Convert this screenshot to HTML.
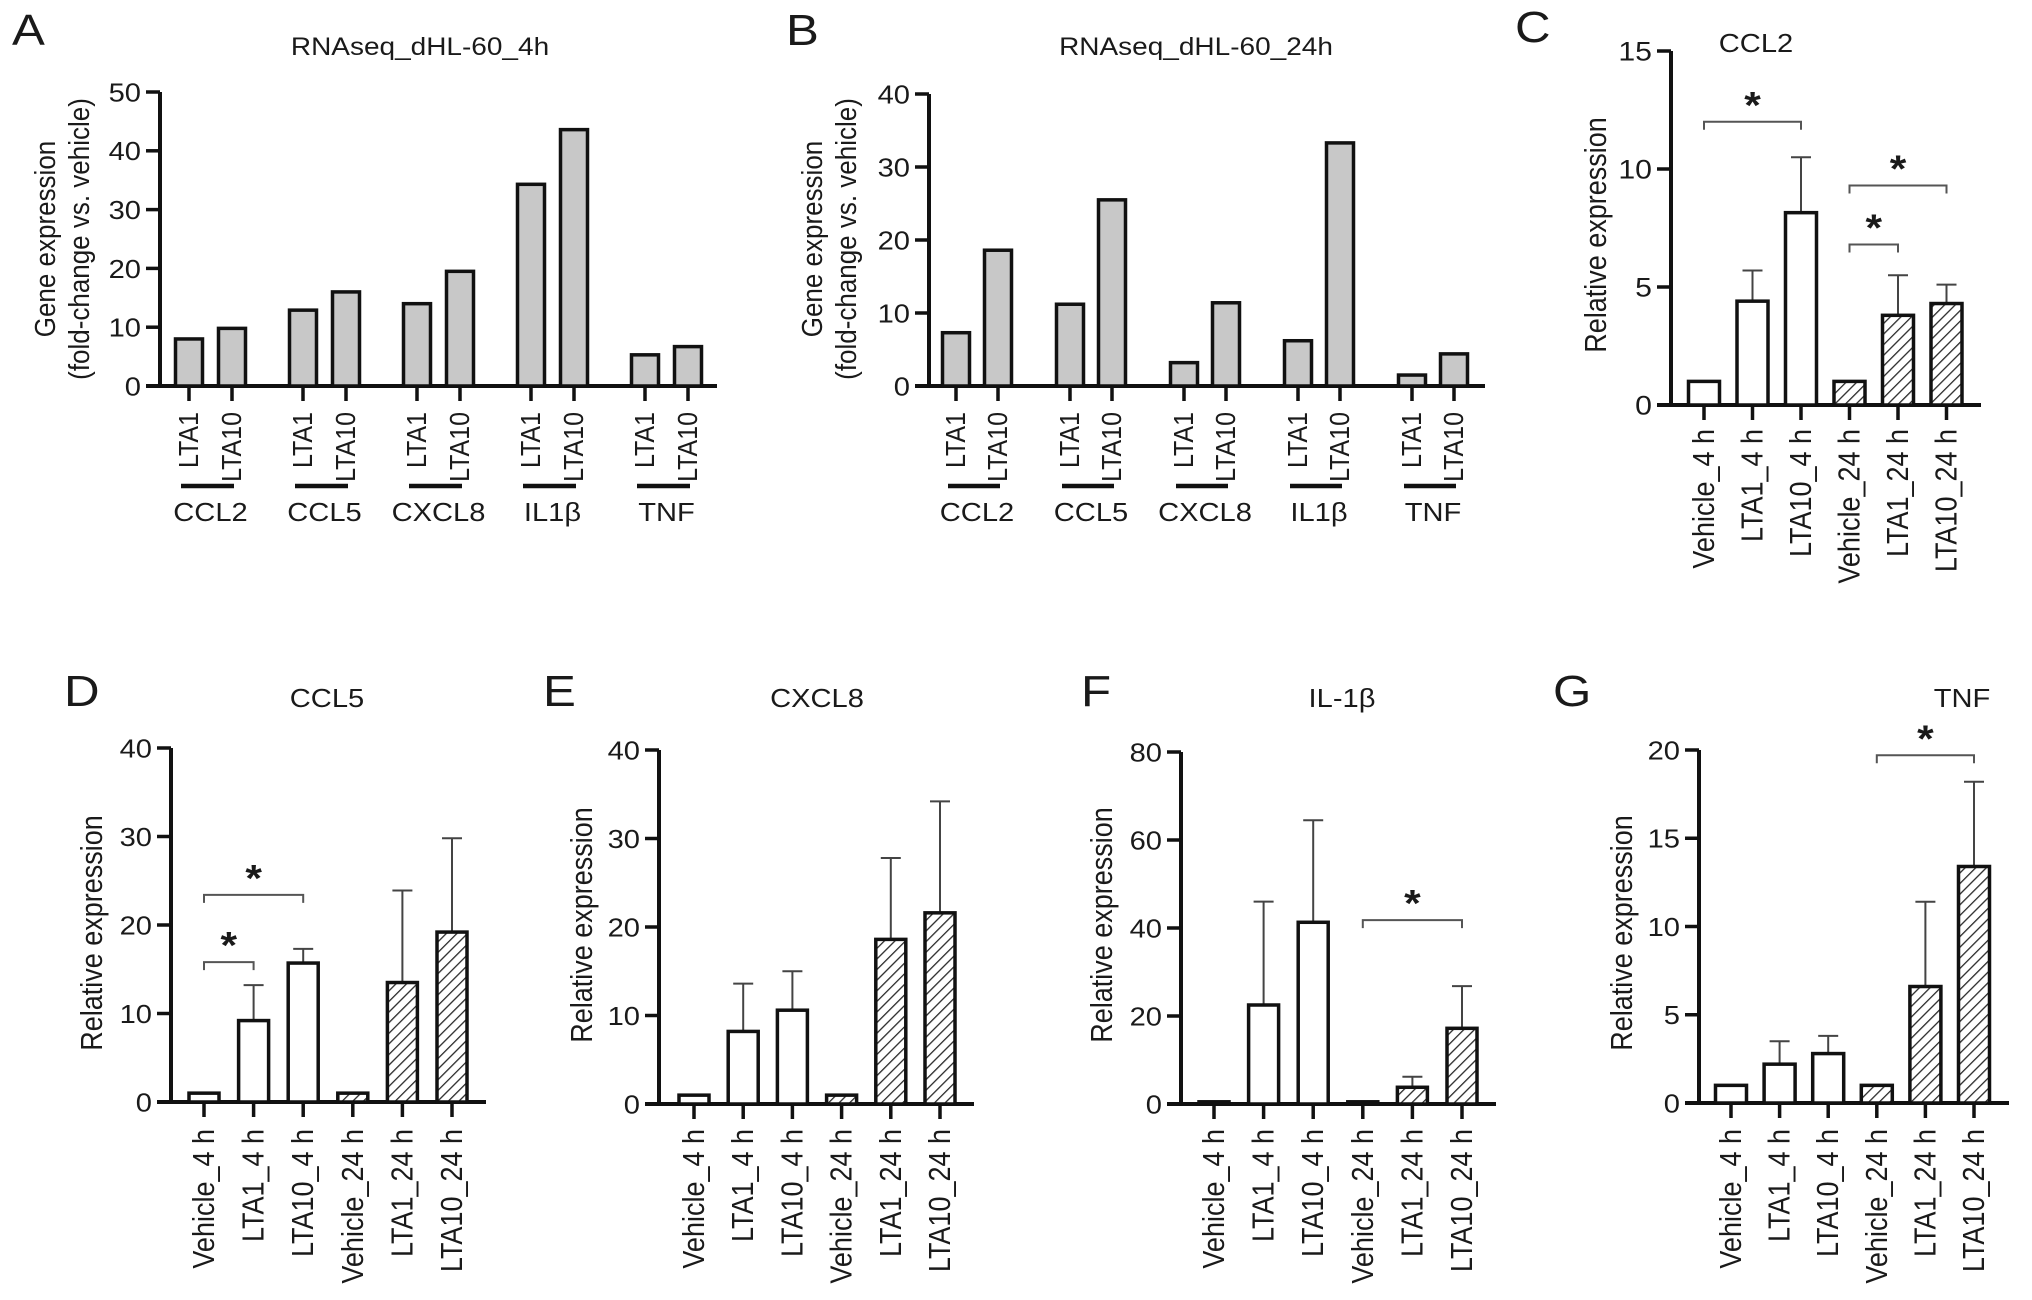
<!DOCTYPE html>
<html><head><meta charset="utf-8"><style>
html,body{margin:0;padding:0;background:#fff;}
svg{display:block;font-family:"Liberation Sans",Arial,sans-serif;}
</style></head><body>
<svg id="fig" width="2032" height="1300" viewBox="0 0 2032 1300" xmlns="http://www.w3.org/2000/svg">
<defs>
<pattern id="hatch" patternUnits="userSpaceOnUse" width="7.5" height="7.5" patternTransform="rotate(45)">
<rect width="7.5" height="7.5" fill="#fff"/>
<line x1="0" y1="0" x2="0" y2="7.5" stroke="#2a2a2a" stroke-width="2.6"/>
</pattern>
</defs>
</svg>
<script>
// ---- data ----
const rnaGroups = ['CCL2','CCL5','CXCL8','IL1β','TNF'];
const rnaSub = ['LTA1','LTA10'];
const A_values = [8,9.8,12.9,16,14,19.5,34.3,43.6,5.3,6.7];
const A_ticks = [0,10,20,30,40,50];
const B_values = [7.3,18.6,11.2,25.5,3.2,11.4,6.2,33.3,1.5,4.4];
const B_ticks = [0,10,20,30,40];
const qCats = ['Vehicle_4 h','LTA1_4 h','LTA10_4 h','Vehicle_24 h','LTA1_24 h','LTA10_24 h'];
const C_mean = [1,4.4,8.15,1,3.8,4.3];
const C_upper = [null,5.7,10.5,null,5.5,5.1];
const C_ticks = [0,5,10,15];
const C_brackets = [[0,2,12.0],[3,4,6.8],[3,5,9.3]];
const D_mean = [1,9.2,15.7,1,13.5,19.2];
const D_upper = [null,13.2,17.3,null,23.9,29.8];
const D_ticks = [0,10,20,30,40];
const D_brackets = [[0,2,23.4],[0,1,15.8]];
const E_mean = [1,8.2,10.6,1,18.6,21.6];
const E_upper = [null,13.6,15,null,27.8,34.2];
const E_ticks = [0,10,20,30,40];
const E_brackets = [];
const F_mean = [0.5,22.5,41.3,0.5,3.8,17.2];
const F_upper = [null,46,64.5,null,6.2,26.8];
const F_ticks = [0,20,40,60,80];
const F_brackets = [[3,5,41.8]];
const G_mean = [1,2.2,2.8,1,6.6,13.4];
const G_upper = [null,3.5,3.8,null,11.4,18.2];
const G_ticks = [0,5,10,15,20];
const G_brackets = [[3,5,19.7]];

const NS='http://www.w3.org/2000/svg';
const svg=document.getElementById('fig');
const SX=1.12;
function mk(tag,attrs,parent){const e=document.createElementNS(NS,tag);for(const k in attrs)e.setAttribute(k,attrs[k]);(parent||svg).appendChild(e);return e;}
function txt(s,x,y,size,anchor,rot,parent){
  const t=mk('text',{'font-size':size,'text-anchor':anchor||'middle',fill:'#1a1a1a',
    transform:'translate('+x+','+y+') scale('+SX+',1)'+(rot?' rotate(-90)':'')},parent);
  t.textContent=s;return t;
}
function line(x1,y1,x2,y2,w,col,parent){return mk('line',{x1:x1,y1:y1,x2:x2,y2:y2,stroke:col||'#111','stroke-width':w},parent);}

function axes(g,c,ticks,tickSize){
  const ys=v=>c.y0-(v/c.max)*(c.y0-c.yTop);
  const ya=line(c.ax,c.yTop,c.ax,c.y0+2,4,'#111',g);
  
  
  const xa=line(c.ax-14,c.y0,c.xEnd,c.y0,4,'#111',g);
  
  
  ticks.forEach(v=>{
    const tk=line(c.ax-14,ys(v),c.ax,ys(v),3.5,'#111',g);
    
    
    const tl=txt(String(v),c.ax-19,ys(v)+tickSize*0.36,tickSize,'end',false,g);
    
    
  });
  return ys;
}

function rnaPanel(id,c,values,ticks){
  const g=mk('g',{});
  
  
  const ys=axes(g,c,ticks,26);
  const L=txt(id,c.letterX,45,44,'start',false,g);
  
  
  const T=txt(c.title,c.titleX,55,25,'middle',false,g);
  
  
  const yl1=txt('Gene expression',c.ylx1,239,26,'middle',true,g);
  
  
  const yl2=txt('(fold-change vs. vehicle)',c.ylx2,239,26,'middle',true,g);
  
  
  rnaGroups.forEach((gn,gi)=>{
    rnaSub.forEach((sn,si)=>{
      const idx=gi*2+si;
      const cx=c.first+gi*c.gs+si*c.pg;
      const top=ys(values[idx]);
      const r=mk('rect',{x:cx-13.5,y:top,width:27,height:c.y0-top,fill:'#c8c8c8',stroke:'#111','stroke-width':3.5},g);
      
      
      line(cx,c.y0,cx,c.y0+15,3.5,'#111',g);
      const lb=txt(sn,cx+9,412,25,'end',true,g);
      
      
    });
    const x0=c.first+gi*c.gs;
    const ul=line(x0-8,486,x0+c.pg+2,486,4.5,'#111',g);
    
    
    const gl=txt(gn,x0+c.pg/2,521,26,'middle',false,g);
    
    
  });
}

function qPanel(id,c,means,uppers,ticks,brackets){
  const g=mk('g',{});
  
  
  const ys=axes(g,c,ticks,c.ts);
  const L=txt(id,c.letterX,c.letterY,44,'start',false,g);
  
  
  const T=txt(c.title,c.titleX,c.titleY,26,'middle',false,g);
  
  
  const yl=txt('Relative expression',c.ylx,c.yly,27,'middle',true,g);
  
  
  qCats.forEach((cat,i)=>{
    const cx=c.first+i*c.sp;
    const top=ys(means[i]);
    if(uppers[i]!==null){
      const eb=line(cx,ys(uppers[i]),cx,top,2,'#444',g);
      
      
      line(cx-10,ys(uppers[i]),cx+10,ys(uppers[i]),2,'#444',g);
    }
    const r=mk('rect',{x:cx-c.bw/2,y:top,width:c.bw,height:c.y0-top,fill:i<3?'#fff':'url(#hatch)',stroke:'#111','stroke-width':3.5},g);
    
    
    line(cx,c.y0,cx,c.y0+15,3.5,'#111',g);
    const lb=txt(cat,cx+10,c.labTop,27,'end',true,g);
    
    
  });
  brackets.forEach(b=>{
    const x1=c.first+b[0]*c.sp, x2=c.first+b[1]*c.sp, y=ys(b[2]);
    const p=mk('path',{d:'M'+x1+','+(y+8)+' L'+x1+','+y+' L'+x2+','+y+' L'+x2+','+(y+8),fill:'none',stroke:'#555','stroke-width':2},g);
    
    
    const s=txt('*',(x1+x2)/2,y-4,38,'middle',false,g);
    s.setAttribute('font-weight','bold');
    
    
  });
}

rnaPanel('A',{ax:160,y0:386,yTop:92,max:50,xEnd:717,first:189,gs:114,pg:43,letterX:12,title:'RNAseq_dHL-60_4h',titleX:420,ylx1:55,ylx2:89},A_values,A_ticks);
rnaPanel('B',{ax:929,y0:386,yTop:94,max:40,xEnd:1485,first:956,gs:114,pg:42,letterX:786,title:'RNAseq_dHL-60_24h',titleX:1196,ylx1:822,ylx2:856},B_values,B_ticks);
qPanel('C',{ax:1671,y0:405,yTop:51,max:15,xEnd:1981,first:1704,sp:48.5,bw:31,ts:27,letterX:1515,letterY:42,title:'CCL2',titleX:1756,titleY:52,ylx:1606,yly:235,labTop:429},C_mean,C_upper,C_ticks,C_brackets);
qPanel('D',{ax:171,y0:1102,yTop:748,max:40,xEnd:486,first:204,sp:49.6,bw:30,ts:26,letterX:64,letterY:706,title:'CCL5',titleX:327,titleY:707,ylx:102,yly:933,labTop:1129},D_mean,D_upper,D_ticks,D_brackets);
qPanel('E',{ax:659,y0:1104,yTop:750,max:40,xEnd:974,first:694,sp:49.2,bw:30,ts:26,letterX:543,letterY:706,title:'CXCL8',titleX:817,titleY:707,ylx:592,yly:925,labTop:1129},E_mean,E_upper,E_ticks,E_brackets);
qPanel('F',{ax:1181,y0:1104,yTop:752,max:80,xEnd:1496,first:1214,sp:49.6,bw:30,ts:26,letterX:1081,letterY:706,title:'IL-1β',titleX:1342,titleY:707,ylx:1112,yly:925,labTop:1129},F_mean,F_upper,F_ticks,F_brackets);
qPanel('G',{ax:1699,y0:1103,yTop:750,max:20,xEnd:2009,first:1731,sp:48.6,bw:31,ts:26,letterX:1553,letterY:706,title:'TNF',titleX:1962,titleY:707,ylx:1632,yly:933,labTop:1129},G_mean,G_upper,G_ticks,G_brackets);
</script>
</body></html>
